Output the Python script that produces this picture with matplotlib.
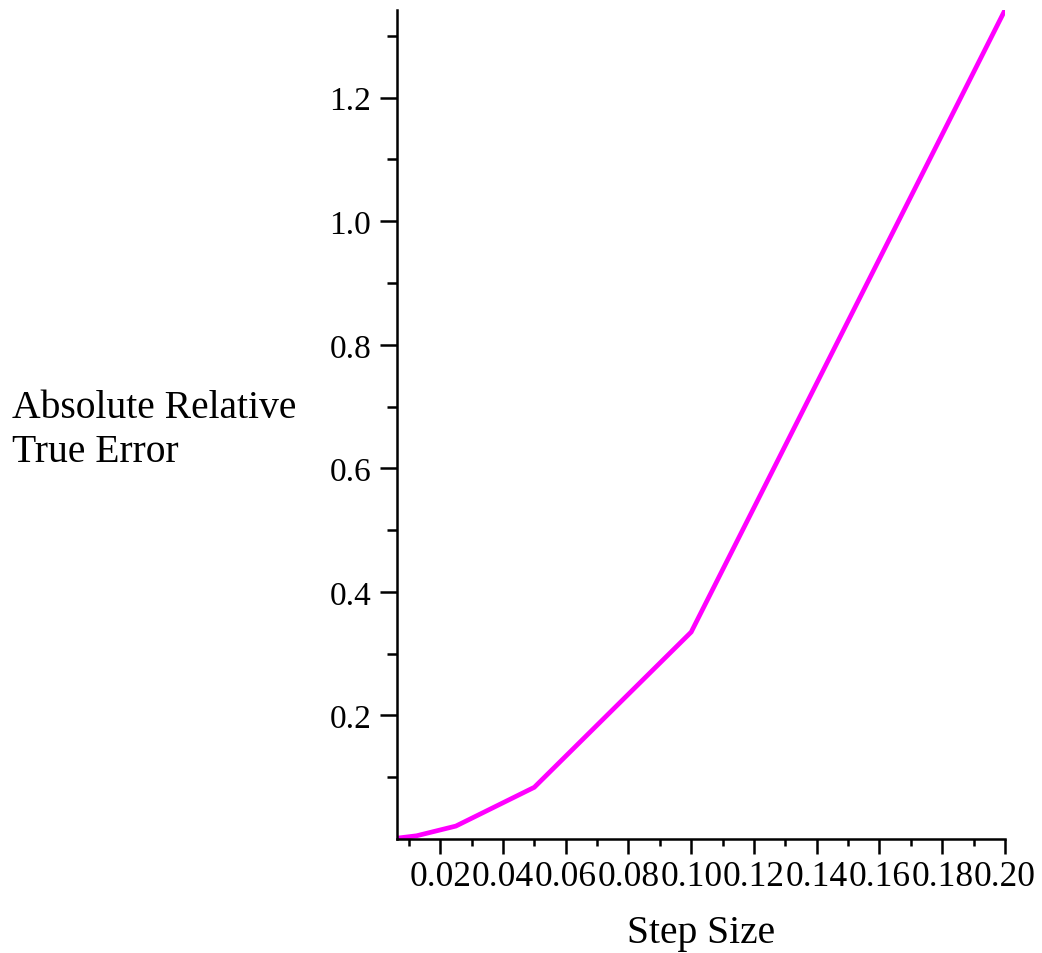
import matplotlib.pyplot as plt
import numpy as np

# step sizes and the absolute relative true error for each
step_size = [0.00625, 0.0125, 0.025, 0.05, 0.1, 0.2]
abs_rel_err = [0.0013, 0.0052, 0.0209, 0.0837, 0.335, 1.342]

x_major = [0.02, 0.04, 0.06, 0.08, 0.10, 0.12, 0.14, 0.16, 0.18, 0.20]
x_minor = [0.01, 0.03, 0.05, 0.07, 0.09, 0.11, 0.13, 0.15, 0.17, 0.19]
y_major = [0.2, 0.4, 0.6, 0.8, 1.0, 1.2]
y_minor = [0.1, 0.3, 0.5, 0.7, 0.9, 1.1, 1.3]

plt.rcParams['font.family'] = ['Liberation Serif', 'DejaVu Serif']

fig = plt.figure(figsize=(10.42, 9.54), dpi=100)
ax = fig.add_axes([0.381, 0.1195, 0.5835, 0.869])

ax.plot(step_size, abs_rel_err, color='#ff00ff', lw=3.4, solid_joinstyle='miter')

ax.set_xlim(0.00625, 0.2)
ax.set_ylim(0, 1.342)

ax.set_xticks(x_major)
ax.set_xticklabels(['%.2f' % v for v in x_major])
ax.set_xticks(x_minor, minor=True)
ax.set_yticks(y_major)
ax.set_yticklabels(['%.1f' % v for v in y_major])
ax.set_yticks(y_minor, minor=True)

for s in ['top', 'right']:
    ax.spines[s].set_visible(False)
for s in ['left', 'bottom']:
    ax.spines[s].set_linewidth(1.8)

ax.tick_params(axis='y', which='major', direction='out', length=12.5, width=1.8,
               labelsize=24, pad=6)
ax.tick_params(axis='y', which='minor', direction='out', length=7, width=1.8)
ax.tick_params(axis='x', which='major', direction='out', length=11, width=1.8,
               labelsize=25.5, pad=4)
ax.tick_params(axis='x', which='minor', direction='out', length=5, width=1.8)

# axis titles
fig.text(701 / 1042, 1 - 943 / 954, 'Step Size', fontsize=28.5,
         ha='center', va='baseline')
fig.text(12 / 1042, 1 - 418 / 954, 'Absolute Relative', fontsize=28.5,
         ha='left', va='baseline')
fig.text(12 / 1042, 1 - 462 / 954, 'True Error', fontsize=28.5,
         ha='left', va='baseline')

plt.savefig('out.png', dpi=100)
